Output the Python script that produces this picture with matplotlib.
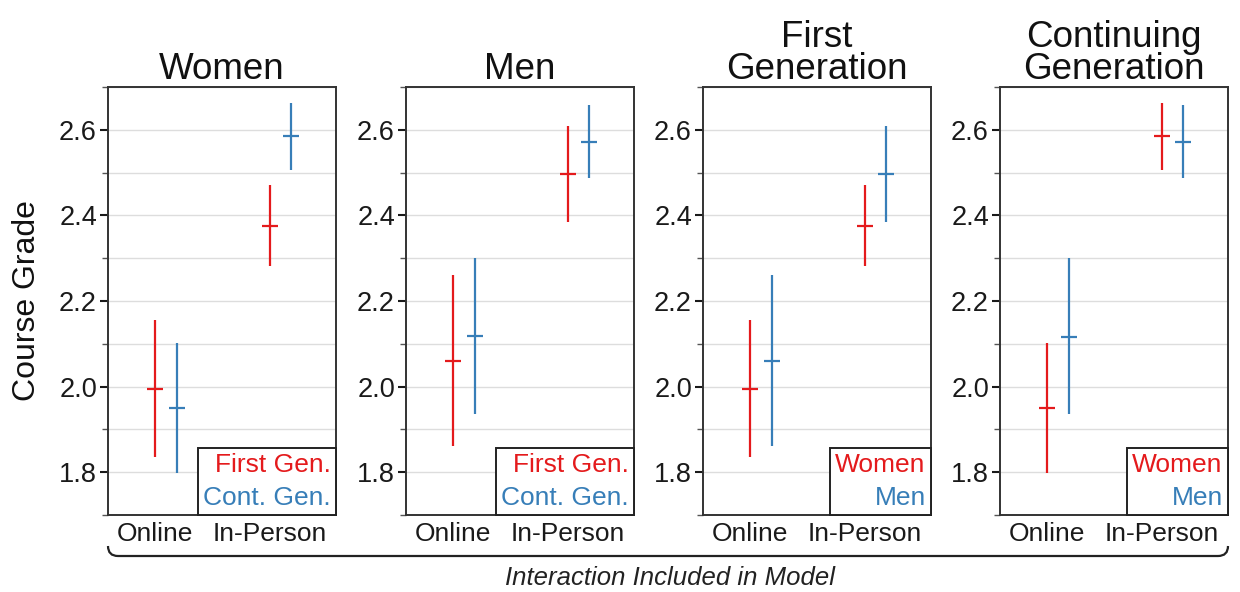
import matplotlib
matplotlib.use("Agg")
import matplotlib.pyplot as plt
from matplotlib.path import Path
from matplotlib.patches import PathPatch
from matplotlib.ticker import MultipleLocator
from matplotlib.offsetbox import AnchoredOffsetbox, VPacker, TextArea

plt.rcParams['font.family'] = ['Liberation Sans', 'DejaVu Sans']

titles = ["Women", "Men", "First\nGeneration", "Continuing\nGeneration"]
categories = ["Online", "In-Person"]
legend_labels = [["First Gen.", "Cont. Gen."], ["First Gen.", "Cont. Gen."],
                 ["Women", "Men"], ["Women", "Men"]]

# per panel: [series0 (red), series1 (blue)], each list over categories
means = [
    [[1.995, 2.375], [1.950, 2.585]],
    [[2.060, 2.497], [2.118, 2.572]],
    [[1.995, 2.375], [2.060, 2.497]],
    [[1.950, 2.585], [2.115, 2.572]],
]
lows = [
    [[1.835, 2.282], [1.798, 2.505]],
    [[1.862, 2.385], [1.935, 2.487]],
    [[1.835, 2.282], [1.862, 2.385]],
    [[1.798, 2.505], [1.935, 2.487]],
]
highs = [
    [[2.155, 2.470], [2.102, 2.662]],
    [[2.260, 2.610], [2.300, 2.657]],
    [[2.155, 2.470], [2.260, 2.610]],
    [[2.102, 2.662], [2.300, 2.657]],
]

colors = ["#E41A1C", "#377EB8"]
dodge = [0.0, 0.19]

fig = plt.figure(figsize=(12.4, 5.92), dpi=100)
lefts_px = [108, 406, 703, 1000]
W, H = 1240, 592
for i in range(4):
    ax = fig.add_axes([lefts_px[i] / W, 1 - 515 / H, 228 / W, (515 - 87) / H])
    for s in range(2):
        xs = [c + dodge[s] for c in range(len(categories))]
        for c in range(len(categories)):
            ax.plot([xs[c], xs[c]], [lows[i][s][c], highs[i][s][c]],
                    color=colors[s], lw=1.6, solid_capstyle='butt', zorder=3)
        ax.plot(xs, means[i][s], ls='none', marker='_', ms=12,
                mew=1.6, color=colors[s], zorder=4)
    ax.set_xlim(-0.41, 1.58)
    ax.set_ylim(1.7, 2.7)
    ax.yaxis.set_minor_locator(MultipleLocator(0.1))
    ax.set_yticks([1.8, 2.0, 2.2, 2.4, 2.6])
    ax.set_yticklabels(["1.8", "2.0", "2.2", "2.4", "2.6"])
    ax.grid(True, which='both', axis='y', color='#DDDDDD', lw=1.0, zorder=0)
    ax.set_axisbelow(True)
    ax.set_xticks(range(len(categories)))
    ax.set_xticklabels(categories)
    ax.tick_params(axis='x', length=0, labelsize=19, pad=5, colors='#1a1a1a')
    ax.tick_params(axis='y', which='major', length=6, width=1.5,
                   labelsize=19.5, pad=2, colors='#1a1a1a')
    ax.tick_params(axis='y', which='minor', length=4, width=1.0, colors='#555555')
    for sp in ax.spines.values():
        sp.set_color('#333333')
        sp.set_linewidth(1.4)
    ax.set_title(titles[i], fontsize=26.5, pad=5, linespacing=0.88, color='#111111')

    texts = [TextArea(lab, textprops=dict(color=col, fontsize=19))
             for lab, col in zip(legend_labels[i], colors)]
    box = VPacker(children=texts, align='right', pad=0, sep=6)
    anch = AnchoredOffsetbox(loc='lower right', child=box, pad=0.38,
                             borderpad=0, frameon=True)
    anch.patch.set_edgecolor('#222222')
    anch.patch.set_linewidth(1.4)
    anch.patch.set_boxstyle('square', pad=0)
    anch.zorder = 5
    ax.add_artist(anch)

    if i == 0:
        ax.set_ylabel("Course Grade", fontsize=23, labelpad=12, color='#111111')

# curly bracket under all panels (figure pixel coords)
x0, x1, yb, r = 108 / W, 1228 / W, 1 - 556 / H, 10
dx, dy = r / W, r / H
verts = [(x0, yb + dy), (x0, yb), (x0 + dx, yb),
         (x1 - dx, yb), (x1, yb), (x1, yb + dy)]
codes = [Path.MOVETO, Path.CURVE3, Path.CURVE3,
         Path.LINETO, Path.CURVE3, Path.CURVE3]
fig.patches.append(PathPatch(Path(verts, codes), transform=fig.transFigure,
                             fill=False, lw=1.6, edgecolor='#222222'))

fig.text(670 / W, 1 - 578 / H, "Interaction Included in Model",
         ha='center', va='center', fontsize=18.5, style='italic', color='#222222')

fig.savefig("out.png", dpi=100)
